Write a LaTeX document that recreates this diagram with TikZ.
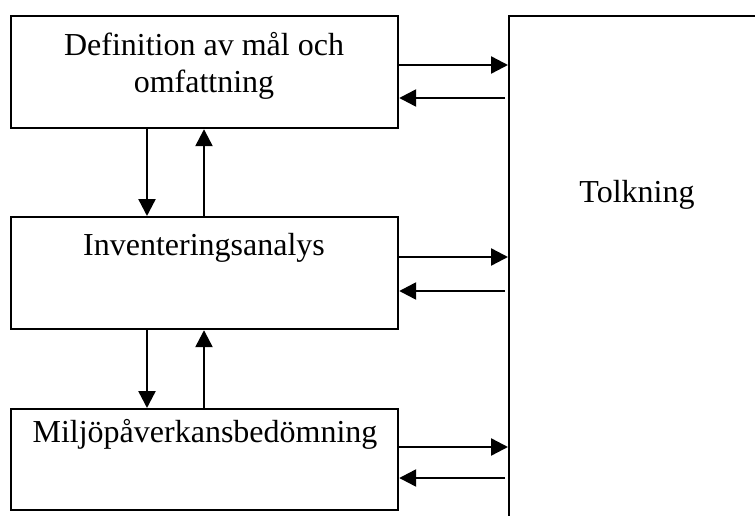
\documentclass[tikz,border=0pt]{standalone}
\usepackage{fontspec}
\setmainfont{Liberation Serif}
\usepackage{tikz}
\usetikzlibrary{arrows.meta}
\tikzset{
  box/.style={draw=black, line width=2.2pt, anchor=north west, inner sep=0pt},
  arr/.style={draw=black, line width=2.4pt, -{Triangle[length=17pt,width=17pt]}},
  lab/.style={text=black, font=\fontsize{32}{37}\selectfont, align=center, anchor=base, inner sep=0pt},
}
\begin{document}
\begin{tikzpicture}[x=1pt,y=-1pt]
  \clip (0,0) rectangle (755,516);
  \fill[white] (0,0) rectangle (755,516);

  % boxes
  \node[box, minimum width=387pt, minimum height=112pt] (def) at (10,15) {};
  \node[box, minimum width=387pt, minimum height=112pt] (inv) at (10,216) {};
  \node[box, minimum width=387pt, minimum height=101pt] (mil) at (10,408) {};
  \node[box, minimum width=260pt, minimum height=530pt] (tolk) at (508,15) {};

  % texts
  \node[lab] (deftxt) at (204,56) {Definition av mål och};
  \node[lab] (deftxtb) at (204,93) {omfattning};
  \node[lab] (invtxt) at (204,255) {Inventeringsanalys};
  \node[lab] (miltxt) at (205,442) {Miljöpåverkansbedömning};
  \node[lab] (tolktxt) at (637,202) {Tolkning};

  % arrows to and from Tolkning
  \foreach \b/\r/\l in {def/50/83, inv/41/75, mil/39/70}{
    \path ([yshift=-\r pt]\b.north east) coordinate (\b r)
          ([yshift=-\l pt]\b.north east) coordinate (\b l);
    \draw[arr] (\b r) -- (\b r -| tolk.west);
    \draw[arr] ([xshift=-3pt]\b l -| tolk.west) -- (\b l);
  }

  % arrows between the steps
  \foreach \u/\d in {def/inv, inv/mil}{
    \draw[arr] ([xshift=137pt]\u.south west) -- ([xshift=137pt]\d.north west);
    \draw[arr] ([xshift=194pt]\d.north west) -- ([xshift=194pt]\u.south west);
  }
\end{tikzpicture}
\end{document}
